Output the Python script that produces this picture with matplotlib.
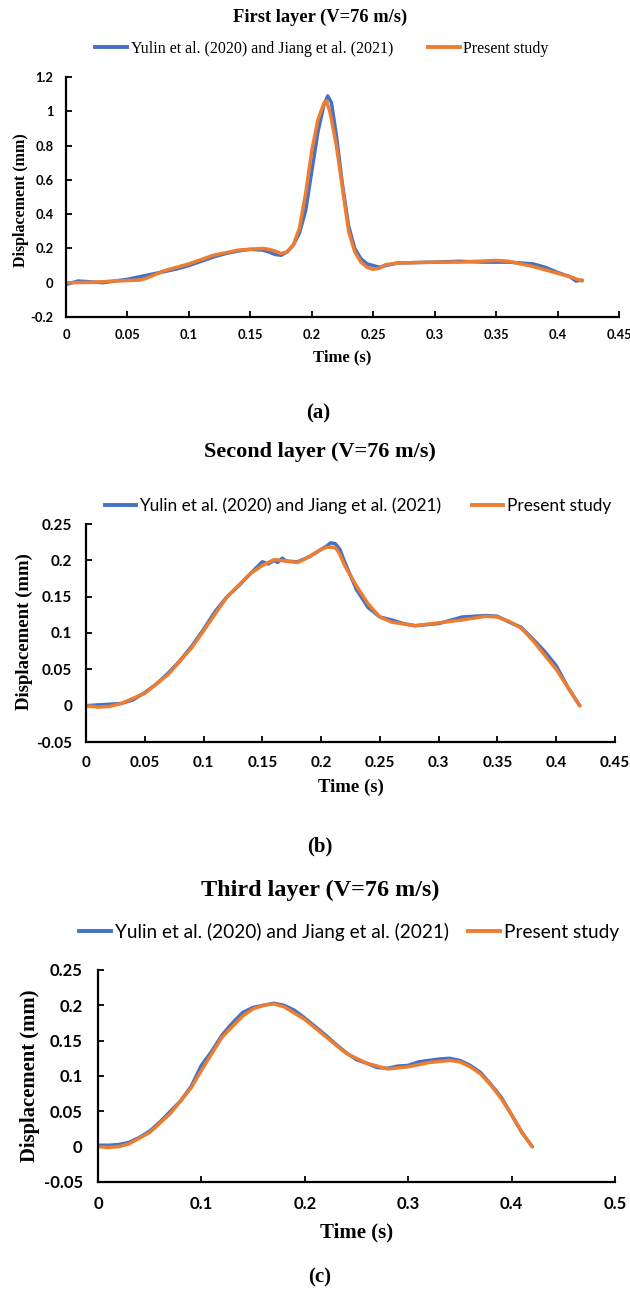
import matplotlib.pyplot as plt
from matplotlib.lines import Line2D

W, H = 630, 1292
BLUE = '#4472C4'
ORANGE = '#ED7D31'

# ---- panel (a): first layer ----
t_a_ref = [0, 0.01, 0.02, 0.03, 0.04, 0.05, 0.06, 0.07, 0.08, 0.09, 0.1, 0.11, 0.12, 0.13,
           0.14, 0.15, 0.16, 0.165, 0.17, 0.175, 0.18, 0.185, 0.19, 0.195, 0.2, 0.205, 0.21,
           0.213, 0.216, 0.22, 0.225, 0.23, 0.235, 0.24, 0.245, 0.25, 0.255, 0.26, 0.27,
           0.3, 0.32, 0.34, 0.36, 0.38, 0.39, 0.4, 0.41, 0.415, 0.42]
d_a_ref = [-0.01, 0.01, 0.005, 0.0, 0.01, 0.02, 0.035, 0.05, 0.065, 0.08, 0.1, 0.125, 0.15, 0.17,
           0.185, 0.195, 0.19, 0.18, 0.165, 0.16, 0.18, 0.22, 0.29, 0.42, 0.65, 0.88, 1.04,
           1.09, 1.05, 0.86, 0.57, 0.33, 0.2, 0.14, 0.11, 0.1, 0.09, 0.1, 0.115,
           0.12, 0.125, 0.12, 0.12, 0.11, 0.09, 0.06, 0.035, 0.01, 0.015]
t_a_new = [0, 0.02, 0.04, 0.06, 0.065, 0.08, 0.1, 0.12, 0.14, 0.16, 0.165, 0.17, 0.175, 0.18,
           0.185, 0.19, 0.195, 0.2, 0.205, 0.21, 0.212, 0.215, 0.22, 0.225, 0.23, 0.235, 0.24,
           0.245, 0.25, 0.255, 0.26, 0.27, 0.3, 0.32, 0.35, 0.36, 0.38, 0.4, 0.41, 0.42]
d_a_new = [0, 0.002, 0.01, 0.015, 0.025, 0.07, 0.11, 0.16, 0.19, 0.2, 0.195, 0.185, 0.17, 0.18,
           0.22, 0.32, 0.52, 0.77, 0.95, 1.05, 1.06, 0.99, 0.8, 0.55, 0.3, 0.18, 0.12,
           0.09, 0.078, 0.085, 0.105, 0.115, 0.12, 0.12, 0.13, 0.125, 0.095, 0.055, 0.035, 0.01]

# ---- panel (b): second layer ----
t_b_ref = [0, 0.02, 0.03, 0.04, 0.05, 0.06, 0.07, 0.08, 0.09, 0.1, 0.11, 0.12, 0.13, 0.14,
           0.15, 0.155, 0.16, 0.163, 0.167, 0.17, 0.18, 0.19, 0.2, 0.205, 0.208, 0.212, 0.216,
           0.22, 0.23, 0.24, 0.25, 0.26, 0.27, 0.28, 0.3, 0.32, 0.34, 0.35, 0.36, 0.37,
           0.38, 0.39, 0.4, 0.41, 0.42]
d_b_ref = [0, 0.002, 0.003, 0.008, 0.018, 0.03, 0.045, 0.062, 0.082, 0.105, 0.13, 0.15, 0.165,
           0.182, 0.198, 0.195, 0.2, 0.197, 0.203, 0.199, 0.198, 0.205, 0.215, 0.22, 0.224,
           0.223, 0.215, 0.198, 0.16, 0.135, 0.122, 0.118, 0.113, 0.11, 0.113, 0.122, 0.124,
           0.123, 0.115, 0.108, 0.092, 0.075, 0.055, 0.025, 0.0]
t_b_new = [0, 0.01, 0.02, 0.03, 0.05, 0.07, 0.09, 0.1, 0.12, 0.14, 0.15, 0.16, 0.17, 0.18,
           0.19, 0.2, 0.205, 0.21, 0.213, 0.216, 0.22, 0.23, 0.24, 0.25, 0.26, 0.28, 0.3,
           0.32, 0.34, 0.35, 0.36, 0.37, 0.38, 0.39, 0.4, 0.41, 0.42]
d_b_new = [0, -0.002, -0.001, 0.003, 0.017, 0.043, 0.08, 0.103, 0.15, 0.182, 0.193, 0.201,
           0.199, 0.197, 0.205, 0.215, 0.218, 0.218, 0.216, 0.208, 0.193, 0.165, 0.14, 0.122,
           0.115, 0.11, 0.114, 0.118, 0.123, 0.122, 0.116, 0.107, 0.09, 0.07, 0.05, 0.025, 0.0]

# ---- panel (c): third layer ----
t_c_ref = [0, 0.01, 0.02, 0.03, 0.04, 0.05, 0.06, 0.07, 0.08, 0.09, 0.1, 0.11, 0.12, 0.13,
           0.14, 0.15, 0.16, 0.17, 0.18, 0.19, 0.2, 0.21, 0.22, 0.23, 0.24, 0.25, 0.26,
           0.27, 0.28, 0.29, 0.3, 0.31, 0.32, 0.33, 0.34, 0.35, 0.36, 0.37, 0.38, 0.39,
           0.4, 0.41, 0.415, 0.42]
d_c_ref = [0.002, 0.002, 0.003, 0.006, 0.013, 0.022, 0.035, 0.05, 0.065, 0.085, 0.115, 0.135,
           0.158, 0.175, 0.19, 0.197, 0.2, 0.203, 0.2, 0.193, 0.182, 0.17, 0.158, 0.145,
           0.133, 0.123, 0.118, 0.112, 0.111, 0.114, 0.115, 0.12, 0.122, 0.124, 0.125,
           0.122, 0.115, 0.105, 0.088, 0.07, 0.045, 0.02, 0.01, 0.0]
t_c_new = [0, 0.01, 0.02, 0.03, 0.05, 0.07, 0.09, 0.1, 0.12, 0.14, 0.15, 0.16, 0.17, 0.18,
           0.2, 0.22, 0.24, 0.26, 0.28, 0.3, 0.32, 0.34, 0.35, 0.36, 0.37, 0.38, 0.39, 0.4,
           0.41, 0.42]
d_c_new = [0, -0.001, 0.0, 0.004, 0.02, 0.047, 0.083, 0.108, 0.155, 0.185, 0.195, 0.2, 0.202,
           0.198, 0.18, 0.156, 0.132, 0.118, 0.11, 0.113, 0.119, 0.122, 0.12, 0.113, 0.103,
           0.087, 0.068, 0.045, 0.02, 0.0]

ref_label = 'Yulin et al. (2020) and Jiang et al. (2021)'
new_label = 'Present study'

SERIF = 'Liberation Serif'
SANS = 'Lato'


def fx(px):
    return px / W


def fy(py):
    return 1 - py / H


def make_panel(fig, box, t1, d1, t2, d2, xticks, xlabels, yticks, ylabels, tsize, xpad, ypad):
    left, top, right, bottom = box
    ax = fig.add_axes([fx(left), fy(bottom), fx(right) - fx(left), fy(top) - fy(bottom)])
    ax.plot(t1, d1, color=BLUE, lw=2.5, solid_capstyle='round', solid_joinstyle='round')
    ax.plot(t2, d2, color=ORANGE, lw=2.5, solid_capstyle='round', solid_joinstyle='round')
    ax.set_xlim(xticks[0], xticks[-1])
    ax.set_ylim(yticks[0], yticks[-1])
    ax.set_xticks(xticks)
    ax.set_xticklabels(xlabels, fontfamily=SANS, fontweight='bold', fontsize=tsize)
    ax.set_yticks(yticks)
    ax.set_yticklabels(ylabels, fontfamily=SANS, fontweight='bold', fontsize=tsize)
    ax.tick_params(direction='in', length=4, width=1.3)
    ax.tick_params(axis='x', pad=xpad)
    ax.tick_params(axis='y', pad=ypad)
    for s in ['top', 'right']:
        ax.spines[s].set_visible(False)
    for s in ['left', 'bottom']:
        ax.spines[s].set_linewidth(1.6)
    return ax


def legend(fig, cx, cy, family, size, hlen, spacing):
    handles = [Line2D([], [], color=BLUE, lw=2.8), Line2D([], [], color=ORANGE, lw=2.8)]
    fig.legend(handles, [ref_label, new_label], loc='center', bbox_to_anchor=(fx(cx), fy(cy)),
               ncol=2, frameon=False, prop={'family': family, 'size': size},
               handlelength=hlen, handletextpad=0.2, columnspacing=spacing,
               borderpad=0, borderaxespad=0)


fig = plt.figure(figsize=(6.3, 12.92), dpi=100)

# (a)
make_panel(fig, (66, 77, 619, 317), t_a_ref, d_a_ref, t_a_new, d_a_new,
           [0, 0.05, 0.1, 0.15, 0.2, 0.25, 0.3, 0.35, 0.4, 0.45],
           ['0', '0.05', '0.1', '0.15', '0.2', '0.25', '0.3', '0.35', '0.4', '0.45'],
           [-0.2, 0, 0.2, 0.4, 0.6, 0.8, 1.0, 1.2],
           ['-0.2', '0', '0.2', '0.4', '0.6', '0.8', '1', '1.2'], 9.3, 9, 9)
fig.text(fx(320), fy(17), 'First layer (V=76 m/s)', ha='center', va='center',
         family=SERIF, weight='bold', size=13.3)
legend(fig, 322, 49, SERIF, 11.5, 2.0, 2.2)
fig.text(fx(342), fy(357), 'Time (s)', ha='center', va='center', family=SERIF, weight='bold', size=12)
fig.text(fx(21), fy(200), 'Displacement (mm)', ha='center', va='center', rotation=90,
         family=SERIF, weight='bold', size=11.5)
fig.text(fx(318), fy(413), '(a)', ha='center', va='center', family=SERIF, weight='bold', size=15)

# (b)
make_panel(fig, (86, 524, 615, 742), t_b_ref, d_b_ref, t_b_new, d_b_new,
           [0, 0.05, 0.1, 0.15, 0.2, 0.25, 0.3, 0.35, 0.4, 0.45],
           ['0', '0.05', '0.1', '0.15', '0.2', '0.25', '0.3', '0.35', '0.4', '0.45'],
           [-0.05, 0, 0.05, 0.1, 0.15, 0.2, 0.25],
           ['-0.05', '0', '0.05', '0.1', '0.15', '0.2', '0.25'], 11, 10, 10)
fig.text(fx(320), fy(452), 'Second layer (V=76 m/s)', ha='center', va='center',
         family=SERIF, weight='bold', size=16)
legend(fig, 358, 506, SANS, 12.4, 1.8, 1.8)
fig.text(fx(351), fy(787), 'Time (s)', ha='center', va='center', family=SERIF, weight='bold', size=13.5)
fig.text(fx(24), fy(632), 'Displacement (mm)', ha='center', va='center', rotation=90,
         family=SERIF, weight='bold', size=13.5)
fig.text(fx(320), fy(846), '(b)', ha='center', va='center', family=SERIF, weight='bold', size=15)

# (c)
make_panel(fig, (98, 970, 615, 1182), t_c_ref, d_c_ref, t_c_new, d_c_new,
           [0, 0.1, 0.2, 0.3, 0.4, 0.5],
           ['0', '0.1', '0.2', '0.3', '0.4', '0.5'],
           [-0.05, 0, 0.05, 0.1, 0.15, 0.2, 0.25],
           ['-0.05', '0', '0.05', '0.1', '0.15', '0.2', '0.25'], 12, 10, 11)
fig.text(fx(320), fy(890), 'Third layer (V=76 m/s)', ha='center', va='center',
         family=SERIF, weight='bold', size=17.4)
legend(fig, 349, 932, SANS, 13.7, 1.7, 1.0)
fig.text(fx(357), fy(1232), 'Time (s)', ha='center', va='center', family=SERIF, weight='bold', size=15)
fig.text(fx(30), fy(1076), 'Displacement (mm)', ha='center', va='center', rotation=90,
         family=SERIF, weight='bold', size=14.9)
fig.text(fx(320), fy(1277), '(c)', ha='center', va='center', family=SERIF, weight='bold', size=15)

fig.savefig('out.png', dpi=100)
